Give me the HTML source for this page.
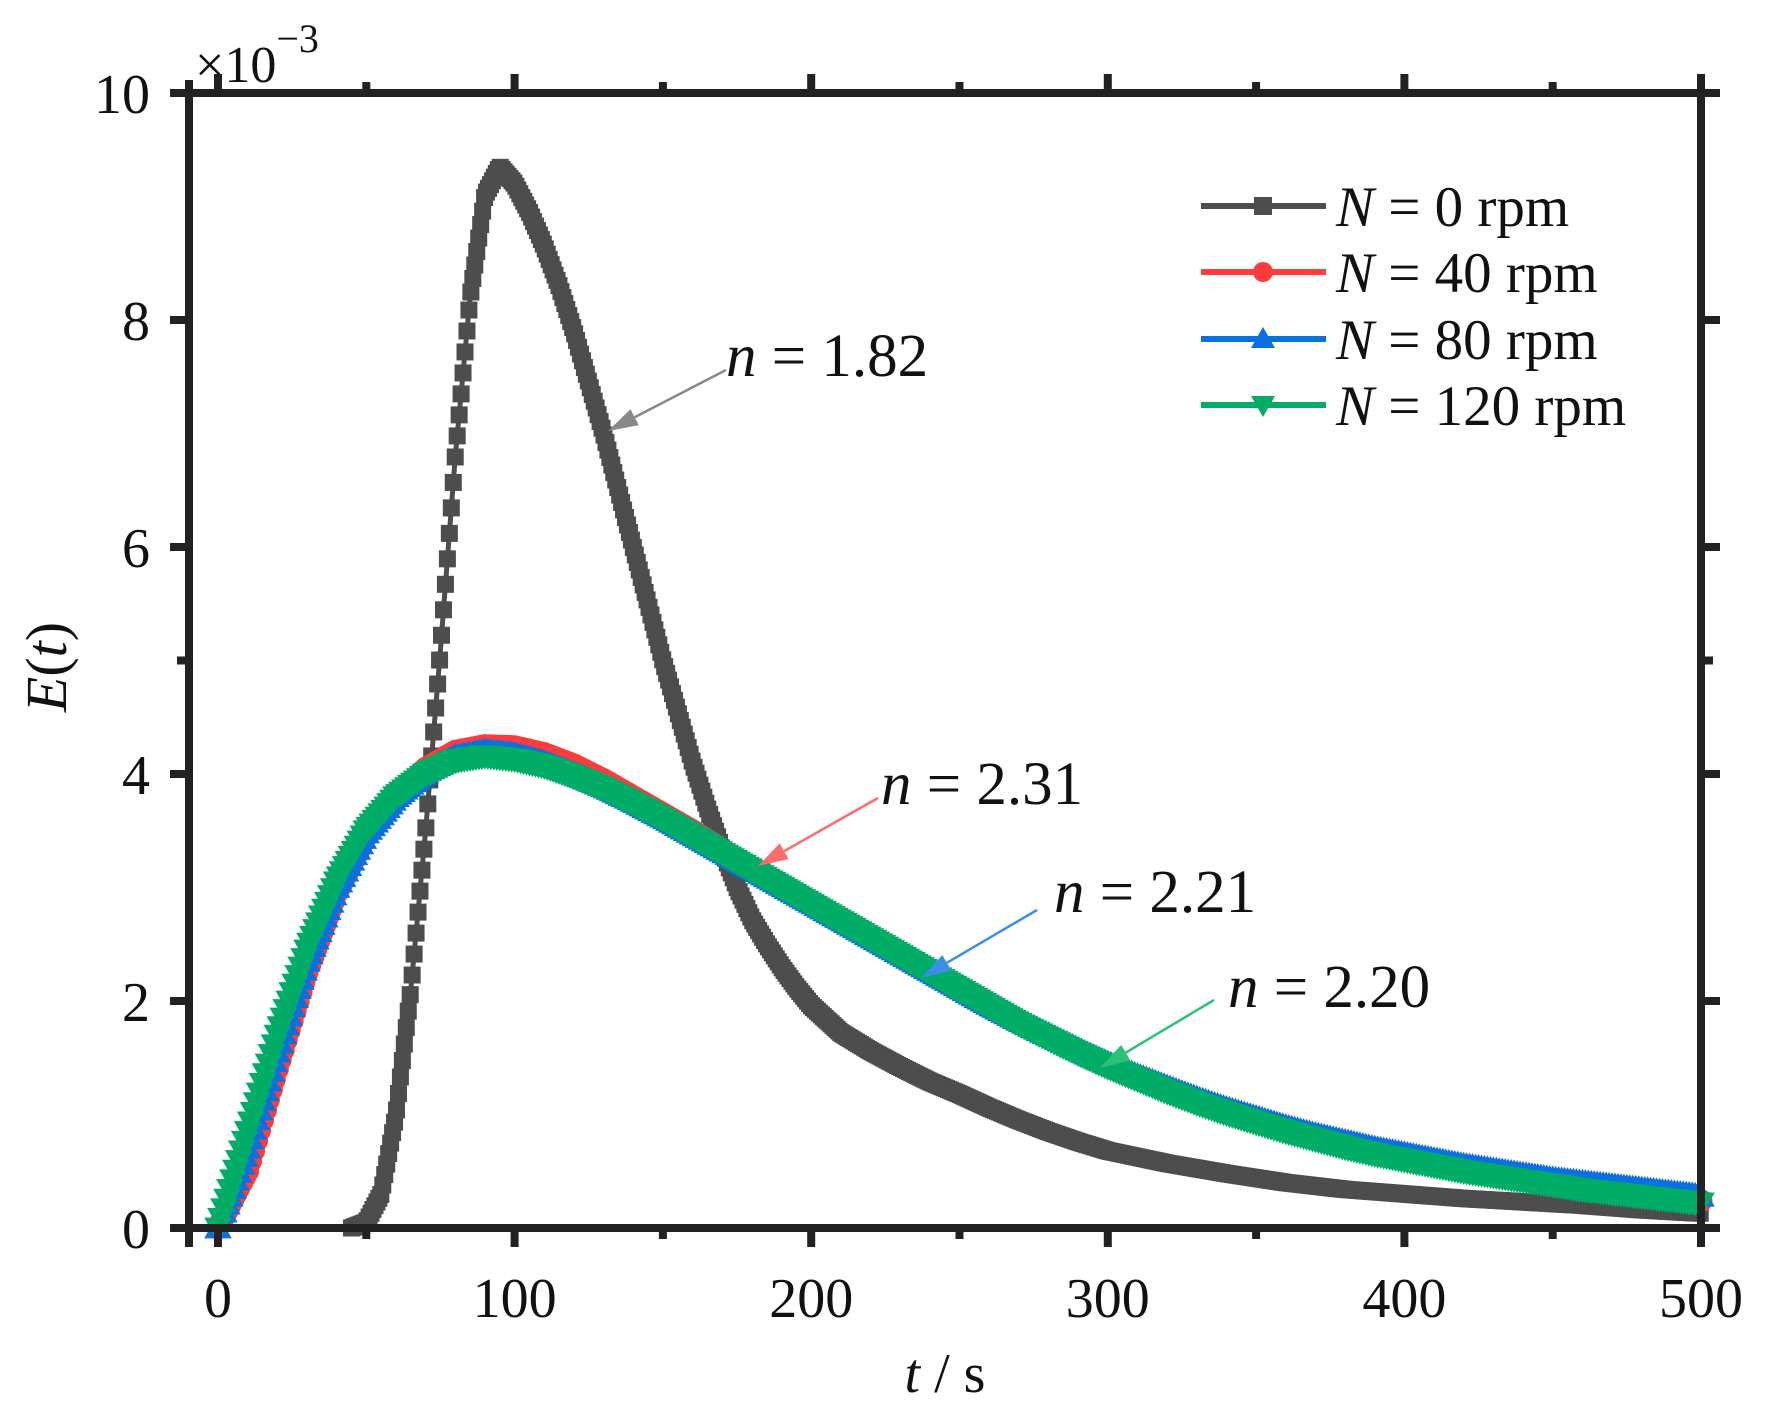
<!DOCTYPE html>
<html><head><meta charset="utf-8"><style>
html,body{margin:0;padding:0;background:#fff}
svg{display:block;font-family:"Liberation Serif",serif}
</style></head><body>
<svg id="chart" width="1775" height="1419" viewBox="0 0 1775 1419" xmlns="http://www.w3.org/2000/svg">
<g id="series"></g>
<g id="axes"></g>
<g id="legend"></g>
<g id="ann"></g>
</svg>
<script>
const grayT=[45,50,55,60,65,70,75,80,85,90,95,100,105,110,115,120,125,130,135,140,145,150,155,160,165,170,175,180,185,190,195,200,210,220,230,240,250,260,270,280,290,300,320,340,360,380,400,420,440,460,480,500];
const grayE=[0,0.05,0.3,1.0,2.1,3.5,5.1,6.8,8.2,9.1,9.35,9.2,8.95,8.65,8.3,7.9,7.45,7.0,6.5,6.0,5.5,5.0,4.55,4.1,3.7,3.33,3.0,2.72,2.5,2.3,2.12,1.96,1.72,1.56,1.42,1.29,1.18,1.06,0.95,0.85,0.76,0.68,0.57,0.48,0.4,0.34,0.3,0.26,0.23,0.2,0.16,0.13];
const colT=[0,10,20,30,40,50,60,70,80,90,100,110,120,130,140,150,160,170,180,190,200,210,220,230,240,250,260,270,280,290,300,310,320,330,340,350,360,370,380,390,400,410,420,430,440,450,460,470,480,490,500];
const redE=[0,0.5,1.4,2.25,2.95,3.45,3.8,4.05,4.2,4.25,4.24,4.18,4.08,3.95,3.8,3.65,3.5,3.33,3.17,3.02,2.87,2.72,2.57,2.42,2.27,2.12,1.97,1.82,1.69,1.56,1.44,1.33,1.22,1.12,1.03,0.95,0.87,0.8,0.73,0.67,0.62,0.57,0.52,0.48,0.44,0.4,0.36,0.33,0.3,0.27,0.24];
const blueE=[0,0.7,1.55,2.35,3.0,3.48,3.8,4.02,4.15,4.2,4.17,4.1,4.0,3.89,3.76,3.62,3.47,3.32,3.17,3.02,2.87,2.72,2.57,2.42,2.27,2.12,1.97,1.83,1.7,1.57,1.45,1.34,1.24,1.14,1.05,0.97,0.89,0.82,0.76,0.7,0.65,0.6,0.55,0.51,0.47,0.43,0.4,0.37,0.34,0.31,0.28];
const greenE=[0,0.85,1.7,2.45,3.05,3.5,3.8,4.0,4.12,4.16,4.13,4.07,3.98,3.87,3.74,3.6,3.45,3.3,3.15,3.0,2.85,2.7,2.55,2.4,2.25,2.1,1.95,1.8,1.67,1.54,1.42,1.31,1.2,1.1,1.01,0.93,0.85,0.78,0.71,0.65,0.6,0.55,0.5,0.46,0.42,0.38,0.34,0.31,0.28,0.25,0.22];
const xTicks=[0,100,200,300,400,500];
const yTicks=[0,2,4,6,8,10];
const legendLabels=["0","40","80","120"];
const annLabels=["1.82","2.31","2.21","2.20"];

const NS="http://www.w3.org/2000/svg";
const X=t=>218+t*2.966;
const Y=v=>1228-v*113.5;
function mk(tag,attrs,parent,text){const e=document.createElementNS(NS,tag);for(const k in attrs)e.setAttribute(k,attrs[k]);if(text!==undefined)e.textContent=text;parent.appendChild(e);return e;}
const S=document.getElementById('series'),A=document.getElementById('axes'),L=document.getElementById('legend'),N=document.getElementById('ann');

function interp(T,E,t){for(let i=0;i<T.length-1;i++){if(t>=T[i]&&t<=T[i+1]){const f=(t-T[i])/(T[i+1]-T[i]);return E[i]+f*(E[i+1]-E[i]);}}return E[E.length-1];}
function marker(type,x,y,color,g,s){
  if(type==='sq')return mk('rect',{x:x-s/2,y:y-s/2,width:s,height:s,fill:color},g);
  if(type==='ci')return mk('circle',{cx:x,cy:y,r:s/2,fill:color},g);
  if(type==='up')return mk('polygon',{points:`${x},${y-s*0.6} ${x-s*0.6},${y+s*0.45} ${x+s*0.6},${y+s*0.45}`,fill:color},g);
  return mk('polygon',{points:`${x},${y+s*0.6} ${x-s*0.6},${y-s*0.45} ${x+s*0.6},${y-s*0.45}`,fill:color},g);
}
function series(name,T,E,color,type,step,size){
  const g=mk('g',{},S);
  
  
  const d=T.map((t,i)=>(i?'L':'M')+X(t).toFixed(1)+','+Y(E[i]).toFixed(1)).join(' ');
  const p=mk('path',{d:d,fill:'none',stroke:color,'stroke-width':5,'stroke-linejoin':'round'},g);
  
  
  for(let t=T[0];t<=T[T.length-1]+1e-6;t+=step){
    const m=marker(type,X(t),Y(interp(T,E,t)),color,g,size);
    
    
  }
}
series('series-n0',grayT,grayE,'#4d4d4d','sq',0.66,17);
series('series-n40',colT,redE,'#ff3b3b','ci',1,23);
series('series-n80',colT,blueE,'#0a6fe0','up',1,23);
series('series-n120',colT,greenE,'#00ad66','dn',1,23);

const ax=[[170,1228,1719,1228],[170,93,1719,93],[189,80,189,1247],[1701,80,1701,1247]];
ax.forEach(a=>{const l=mk('line',{x1:a[0],y1:a[1],x2:a[2],y2:a[3],stroke:'#222','stroke-width':8},A);

});
for(let t=0;t<=500;t+=50){
  const major=t%100===0,len=major?19:11,x=X(t);
  mk('line',{x1:x,y1:1228,x2:x,y2:1228+len,stroke:'#222','stroke-width':8},A);
  mk('line',{x1:x,y1:93,x2:x,y2:93-len,stroke:'#222','stroke-width':8},A);
}
[0,2,4,5,6,8,10].forEach(v=>{
  const major=v%2===0,len=major?19:12,y=Y(v);
  mk('line',{x1:189,y1:y,x2:189-len,y2:y,stroke:'#222','stroke-width':8},A);
  mk('line',{x1:1701,y1:y,x2:1701+len,y2:y,stroke:'#222','stroke-width':8},A);
});
xTicks.forEach(t=>{const e=mk('text',{x:X(t),y:1317,'font-size':56,'text-anchor':'middle',fill:'#111'},A,String(t));

});
yTicks.forEach(v=>{const e=mk('text',{x:150,y:Y(v)+20,'font-size':56,'text-anchor':'end',fill:'#111'},A,String(v));

});
const xt=mk('text',{x:945,y:1392,'font-size':56,'text-anchor':'middle',fill:'#111'},A);


mk('tspan',{'font-style':'italic'},xt,'t');mk('tspan',{},xt,' / s');
const yt=mk('text',{x:0,y:0,'font-size':58,'text-anchor':'middle',fill:'#111',transform:'translate(66,667) rotate(-90)'},A);


mk('tspan',{'font-style':'italic'},yt,'E');mk('tspan',{},yt,'(');mk('tspan',{'font-style':'italic'},yt,'t');mk('tspan',{},yt,')');
const ex=mk('text',{x:195,y:82,'font-size':52,fill:'#111'},A);


mk('tspan',{},ex,'×10');mk('tspan',{'font-size':40,dy:-30},ex,'−3');

const lc=['#4d4d4d','#ff3b3b','#0a6fe0','#00ad66'],lt=['sq','ci','up','dn'],ly=[206,272,339,405];
legendLabels.forEach((lab,i)=>{
  const g=mk('g',{},L);
  
  
  mk('line',{x1:1201,y1:ly[i],x2:1326,y2:ly[i],stroke:lc[i],'stroke-width':6},g);
  marker(lt[i],1263,ly[i],lc[i],g,lt[i]==='sq'?18:20);
  const t=mk('text',{x:1336,y:ly[i]+20,'font-size':57,fill:'#111'},g);
  mk('tspan',{'font-style':'italic'},t,'N');mk('tspan',{},t,' = '+lab+' rpm');
});

const an=[[726,376,726,370,608,431,'#888'],[881,804,878,798,758,866,'#ff6b6b'],[1054,912,1037,910,921,978,'#3b8ee8'],[1228,1007,1214,1000,1100,1068,'#2cc07a']];
an.forEach((a,i)=>{
  const g=mk('g',{},N);
  
  
  const [tx,ty,x1,y1,x2,y2,c]=a;
  const ang=Math.atan2(y2-y1,x2-x1),hl=30,hw=9;
  const bx=x2-hl*Math.cos(ang),by=y2-hl*Math.sin(ang);
  mk('line',{x1:x1,y1:y1,x2:bx,y2:by,stroke:c,'stroke-width':2.5},g);
  mk('polygon',{points:`${x2},${y2} ${bx+hw*Math.sin(ang)},${by-hw*Math.cos(ang)} ${bx-hw*Math.sin(ang)},${by+hw*Math.cos(ang)}`,fill:c},g);
  const t=mk('text',{x:tx,y:ty,'font-size':61,fill:'#111'},g);
  mk('tspan',{'font-style':'italic'},t,'n');mk('tspan',{},t,' = '+annLabels[i]);
});
</script>
</body></html>
